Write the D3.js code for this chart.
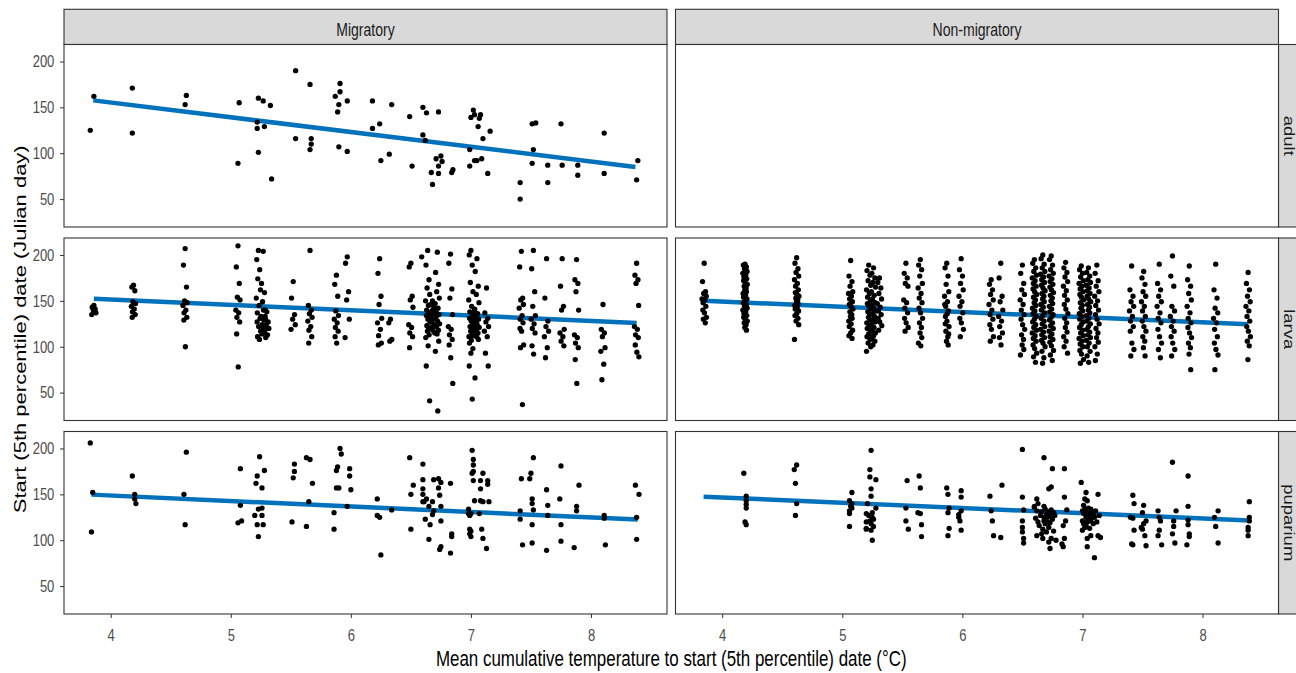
<!DOCTYPE html>
<html>
<head>
<meta charset="utf-8">
<script src="https://cdn.jsdelivr.net/npm/d3@7"></script>
<style>
  html, body { margin: 0; padding: 0; background: #fff; }
  svg { display: block; font-family: "Liberation Sans", Arial, sans-serif; }
</style>
</head>
<body>
<svg id="chart" width="1296" height="673"></svg>
<script>
// ---------------------------------------------------------------------------
// Facets, ticks and titles
// ---------------------------------------------------------------------------
const facetCols = ["Migratory", "Non-migratory"];
const facetRows = ["adult", "larva", "puparium"];
const xTicks = [4, 5, 6, 7, 8];
const yTicks = [50, 100, 150, 200];
const xTitle = "Mean cumulative temperature to start (5th percentile) date (\u00B0C)";
const yTitle = "Start (5th percentile) date (Julian day)";

// ---------------------------------------------------------------------------
// Observations: [mean cumulative temperature, start day]
// ---------------------------------------------------------------------------
const migAdult = [
  [3.83,125],[3.86,162],[4.18,171],[4.18,122],[4.63,163],[4.62,153],[5.06,89],[5.07,155],
  [5.23,160],[5.27,157],[5.33,152],[5.22,134],[5.22,127],[5.28,129],[5.23,101],[5.34,72],
  [5.54,190],[5.54,116],[5.66,175],[5.67,116],[5.67,110],[5.66,104],[5.87,162],[5.91,176],
  [5.91,167],[5.90,153],[5.89,145],[5.97,157],[5.90,107],[5.97,102],[6.18,157],[6.18,127],
  [6.24,132],[6.34,153],[6.25,92],[6.32,99],[6.49,140],[6.51,86],[6.60,150],[6.63,144],
  [6.60,120],[6.62,114],[6.73,145],[6.75,97],[6.71,94],[6.76,91],[6.73,86],[6.67,79],
  [6.73,78],[6.68,66],[6.84,79],[6.85,82],[7.02,147],[7.00,139],[7.03,142],[7.08,142],
  [7.07,138],[7.06,129],[7.16,124],[7.10,116],[6.99,104],[6.99,86],[7.03,92],[7.05,92],
  [7.09,94],[7.14,78],[7.51,132],[7.54,133],[7.52,104],[7.51,89],[7.41,68],[7.41,50],
  [7.64,87],[7.64,68],[7.75,132],[7.76,87],[7.89,87],[7.89,76],[8.11,122],[8.11,78],
  [8.39,92],[8.38,71]
];

const migPuparium = [
  [3.83,206],[3.85,152],[3.84,109],[4.18,170],[4.20,150],[4.20,145],[4.21,140],[4.63,196],
  [4.61,150],[4.62,117],[5.08,138],[5.08,178],[5.06,119],[5.09,121],[5.24,191],[5.22,170],
  [5.21,162],[5.28,176],[5.26,157],[5.23,134],[5.26,135],[5.20,127],[5.26,127],[5.22,117],
  [5.27,117],[5.23,104],[5.53,183],[5.53,175],[5.52,168],[5.51,120],[5.63,190],[5.66,188],
  [5.68,162],[5.65,142],[5.63,115],[5.91,200],[5.92,194],[5.89,180],[5.88,176],[5.88,157],
  [5.90,157],[5.86,130],[5.86,112],[5.97,137],[5.99,178],[5.99,170],[6.00,155],[6.22,145],
  [6.22,127],[6.24,125],[6.25,84],[6.34,133],[6.49,190],[6.52,160],[6.50,150],[6.50,112],
  [6.60,183],[6.60,166],[6.60,156],[6.60,150],[6.60,142],[6.61,142],[6.63,145],[6.62,123],
  [6.65,137],[6.69,166],[6.68,142],[6.69,132],[6.68,128],[6.66,117],[6.65,101],[6.73,167],
  [6.75,163],[6.73,157],[6.74,149],[6.75,137],[6.75,121],[6.75,93],[6.74,90],[6.83,162],
  [6.84,107],[6.84,104],[6.83,86],[7.01,198],[7.02,188],[7.02,182],[7.02,175],[7.01,173],
  [7.02,165],[7.08,165],[7.10,173],[7.08,156],[7.14,165],[7.14,161],[7.03,143],[7.08,143],
  [7.10,142],[7.15,142],[6.98,134],[6.98,129],[7.00,129],[6.99,127],[7.07,129],[6.99,112],
  [7.00,110],[6.99,107],[7.00,104],[7.09,112],[7.10,102],[7.13,91],[7.42,167],[7.49,167],
  [7.50,173],[7.52,190],[7.51,145],[7.51,140],[7.52,133],[7.41,132],[7.41,123],[7.51,117],
  [7.43,95],[7.51,97],[7.63,155],[7.64,138],[7.64,127],[7.63,89],[7.75,181],[7.74,145],
  [7.75,117],[7.75,99],[7.90,160],[7.88,137],[7.88,132],[7.86,92],[8.11,127],[8.11,124],
  [8.12,95],[8.37,160],[8.40,150],[8.38,125],[8.38,101]
];

const nonmigPuparium = [
  [4.18,173],[4.20,148],[4.20,143],[4.20,139],[4.20,135],[4.19,120],[4.20,117],
  [4.62,182],[4.60,177],[4.61,162],[4.62,140],[4.61,127],
  [5.08,152],[5.06,143],[5.07,137],[5.08,135],[5.06,132],[5.06,129],[5.08,140],[5.06,115],
  [5.24,198],[5.23,177],[5.23,169],[5.28,166],[5.24,156],[5.24,148],[5.21,140],[5.28,135],
  [5.20,129],[5.22,127],[5.25,125],[5.26,123],[5.23,121],[5.20,120],[5.24,118],[5.26,115],
  [5.20,112],[5.24,111],[5.25,100],[5.20,113],[5.25,130],
  [5.54,165],[5.53,135],[5.53,121],[5.55,112],
  [5.64,170],[5.65,157],[5.63,130],[5.65,129],[5.66,117],[5.66,104],
  [5.87,157],[5.88,150],[5.89,135],[5.88,130],[5.89,113],[5.88,105],
  [5.99,154],[5.99,147],[5.99,132],[5.97,128],[5.97,125],[5.98,121],[5.99,111],
  [6.23,148],[6.24,132],[6.25,121],[6.26,105],[6.33,160],[6.32,103],
  [6.50,199],[6.50,147],[6.51,133],[6.50,121],[6.50,114],[6.50,109],[6.51,102],[6.51,97],
  [6.68,190],[6.62,145],[6.60,137],[6.68,137],[6.75,178],[6.85,178],[6.72,156],[6.74,158],
  [6.62,132],[6.65,127],[6.61,124],[6.68,121],[6.71,125],[6.73,127],[6.75,123],[6.77,127],
  [6.71,129],[6.69,118],[6.64,116],[6.72,114],[6.66,107],[6.67,102],[6.70,109],[6.74,102],
  [6.72,98],[6.73,91],[6.78,100],[6.85,147],[6.87,133],[6.86,121],[6.84,116],[6.85,102],
  [6.84,93],[6.83,96],[6.60,136],[6.63,140],
  [6.66,131],[6.69,134],[6.70,128],[6.72,131],[6.74,133],[6.76,130],[6.68,125],[6.71,120],
  [6.63,120],[6.73,119],[6.67,112],[6.76,110],[6.62,105],
  [6.99,163],[7.03,152],[7.02,145],[7.04,143],[7.13,150],[7.00,132],[7.01,129],[7.03,125],
  [7.05,129],[7.07,127],[7.10,125],[7.14,127],[7.00,121],[7.04,120],[7.07,121],[7.02,114],
  [7.09,118],[7.00,111],[7.04,102],[7.07,105],[7.13,105],[7.15,103],[7.04,93],[7.10,81],
  [7.02,134],[7.07,134],
  [7.01,138],[7.03,131],[7.05,135],[7.06,123],[7.08,131],[7.01,118],[7.04,127],[7.09,128],
  [7.11,132],[7.03,116],[7.06,113],[7.12,120],
  [7.42,149],[7.43,140],[7.40,125],[7.42,124],[7.43,111],[7.41,96],[7.42,95],
  [7.51,138],[7.50,130],[7.49,114],[7.51,118],[7.53,121],[7.50,112],[7.52,105],[7.53,94],
  [7.63,132],[7.64,125],[7.65,121],[7.64,111],[7.63,105],[7.66,95],
  [7.75,185],[7.78,132],[7.76,121],[7.76,115],[7.77,97],[7.75,107],
  [7.88,170],[7.88,137],[7.88,122],[7.88,117],[7.89,107],[7.89,104],[7.87,95],
  [8.13,132],[8.10,125],[8.11,115],[8.13,97],
  [8.39,142],[8.39,125],[8.39,121],[8.38,114],[8.38,105],[8.38,111]
];

// Larva records grouped by site: [site mean temperature, [start days]]
const migLarva = [
  [3.86,[145,143,141,140,137,135]],
  [4.19,[167,165,161,149,147,144,141,138,135,132]],
  [4.62,[207,189,165,150,148,145,140,137,132,129,100]],
  [5.06,[210,187,169,154,151,140,137,132,127,114,78]],
  [5.23,[205,195,184,174,162,153,145,137,131,127,122,117,111,108]],
  [5.27,[204,169,159,149,140,133,129,124,119,114,140,130,122,115]],
  [5.30,[138,133,127,124,120,117,113,110]],
  [5.52,[171,153,135,130,124,119]],
  [5.66,[205,145,140,136,132,128,122,118,111,104]],
  [5.88,[178,168,155,139,134,130,126,121,117,111,104]],
  [5.97,[198,191,160,151,130,110]],
  [6.24,[196,180,155,146,131,126,119,112,104,102]],
  [6.33,[130,126,108,106]],
  [6.50,[191,187,155,151,143,124,121,115,111,99]],
  [6.59,[198]],
  [6.64,[205,189,173,164,157,150,145,140,137,134,130,127,123,120,117,113,110,101,79,41]],
  [6.68,[150,146,142,139,136,133,130,127,124,121,118,115]],
  [6.72,[203,181,168,160,153,147,142,138,135,132,128,125,122,118,114,106,95,30]],
  [6.83,[201,191,163,153,135,122,119,113,108,102,88,60]],
  [7.00,[205,200,189,170,160,151,144,138,134,131,128,125,122,120,117,114,111,107,104,98,93,79,43]],
  [7.03,[140,136,133,130,127,124,121,118,115,112]],
  [7.05,[196,182,166,157,148,141,136,133,130,127,124,121,118,115,111,108,66]],
  [7.13,[164,137,131,127,122,117,111,93,79]],
  [7.42,[204,187,153,151,146,142,134,130,126,120,117,102,99,37]],
  [7.52,[205,185,160,144,134,130,125,120,115,101,92]],
  [7.63,[196,153,128,122,117,111,99,88]],
  [7.76,[196,166,144,140,119,115,111,106,101]],
  [7.88,[195,173,169,160,140,113,110,104,99,86,60]],
  [8.10,[146,119,115,111,99,95,81,64]],
  [8.38,[191,178,173,169,145,122,119,113,110,102,94,89]]
];

const nonmigLarva = [
  [3.85,[191,171,160,158,155,152,151,148,144,140,137,132,130,126]],
  [4.19,[190,189,187,185,182,180,178,176,174,172,170,168,166,164,162,160,158,156,154,152,150,
         148,146,144,142,140,138,136,134,132,130,128,126,124,121,118]],
  [4.62,[197,191,185,181,177,173,169,166,162,159,157,155,153,151,149,147,145,143,141,139,136,
         134,131,128,124,108]],
  [5.07,[194,177,171,166,160,158,155,152,149,146,144,141,138,135,133,131,128,125,122,118,115,112,109]],
  [5.22,[189,183,178,172,167,162,158,154,150,147,144,141,138,135,132,129,126,123,120,117,114,
         111,108,104,100,95]],
  [5.26,[186,180,175,170,165,160,156,152,148,145,142,139,136,133,130,127,124,121,118,115,112,
         109,106,102]],
  [5.31,[175,170,164,158,152,147,143,139,135,131,127,123,118]],
  [5.53,[191,180,175,169,166,151,148,142,137,131,126,121,117]],
  [5.65,[195,189,184,177,169,164,158,153,148,142,137,131,126,121,115,110,104,101]],
  [5.87,[191,186,177,168,160,155,149,144,139,133,128,122,117,111,106,102,146,136,125,114]],
  [5.99,[196,184,177,169,162,155,149,144,137,131,126,119,111]],
  [6.24,[173,168,162,157,151,146,140,135,130,124,119,111,106]],
  [6.32,[191,175,155,149,140,133,128,122,115,110,102]],
  [6.50,[189,180,169,162,157,151,146,140,135,130,124,119,113,108,102,97,91]],
  [6.60,[195,191,186,182,178,175,172,169,166,163,160,157,154,151,148,145,142,139,136,133,130,
         127,124,121,118,115,112,109,106,102,98,93,89,83]],
  [6.67,[200,196,190,186,182,179,176,173,170,167,164,161,158,155,152,149,146,143,140,137,134,
         131,128,125,122,119,116,113,110,107,104,100,95,88,82]],
  [6.74,[199,195,189,184,180,177,174,171,168,165,162,159,156,153,150,147,144,141,138,135,132,
         129,126,123,120,117,114,111,108,105,101,96,91,85]],
  [6.86,[192,186,181,176,171,166,161,156,151,146,141,136,131,126,121,116,111,106,100,93]],
  [6.99,[188,184,180,176,172,169,166,163,160,157,154,151,148,145,142,139,136,133,130,127,124,
         121,118,115,112,109,106,103,100,96,92,86,82]],
  [7.05,[186,181,177,173,170,167,164,161,158,155,152,149,146,143,140,137,134,131,128,125,122,
         119,116,113,110,107,104,100,95,90,83]],
  [7.12,[189,180,172,166,160,155,150,145,140,135,130,125,120,115,110,105,100,92,85]],
  [7.41,[188,162,155,149,144,139,133,128,122,117,104,97,90]],
  [7.51,[182,175,168,160,155,149,144,139,133,128,122,117,111,106,99,90]],
  [7.64,[190,169,162,155,149,144,137,131,126,119,111,104,97,88]],
  [7.75,[199,177,166,144,139,133,128,122,117,111,104,97,90]],
  [7.89,[188,173,166,158,151,144,137,131,126,121,115,110,104,99,92,75]],
  [8.11,[190,162,153,142,137,131,126,119,111,104,97,91,75]],
  [8.38,[181,169,162,155,149,144,139,133,128,122,117,111,106,101,86]]
];

// Fitted linear trend per panel: [[temperature, day] at start, [temperature, day] at end]
const trendMigAdult      = [[3.855,157.6],[8.37,85.0]];
const trendMigLarva      = [[3.86,152.3],[8.38,125.9]];
const trendMigPuparium   = [[3.84,149.7],[8.39,122.5]];
const trendNonmigLarva   = [[3.85,150.0],[8.38,124.4]];
const trendNonmigPuparium= [[3.845,147.5],[8.39,121.4]];

// ---------------------------------------------------------------------------
// Layout
// ---------------------------------------------------------------------------
const colX = [64, 675.5];
const panelW = 603;
const rowY = [44.5, 238, 431.5];
const panelH = 182.5;
const stripTop = 9.3;
const rightStripX = 1278.5;
const xDomain = [3.611, 8.633];
const yDomain = [19.6, 218.5];
const lineColor = "#0072BC";
const frame = "#333333";
// horizontal squeeze applied to glyphs
const hx = 0.79;
// sideways spread of records within a site column (display only)
const jitterUnit = 0.02;
const jitterSteps = [0, -0.7, 0.55, -0.25, 0.85, -0.9, 0.3, -0.45, 0.7, -0.55, 0.1, 0.95,
                     -0.35, 0.45, -0.1, 0.6, -0.8, 0.2, -0.6, 0.8];

const svg = d3.select("#chart");
const xScales = colX.map(x0 => d3.scaleLinear().domain(xDomain).range([x0, x0 + panelW]));
const yScales = rowY.map(y0 => d3.scaleLinear().domain(yDomain).range([y0 + panelH, y0]));

function expand(clusters) {
  const out = [];
  clusters.forEach(([t, days]) => {
    days.forEach((d, i) => {
      out.push([t + jitterSteps[i % jitterSteps.length] * jitterUnit, d]);
    });
  });
  return out;
}

const panels = [
  { col: 0, row: 0, pts: migAdult, trend: trendMigAdult },
  { col: 1, row: 0, pts: [], trend: null },
  { col: 0, row: 1, pts: expand(migLarva), trend: trendMigLarva },
  { col: 1, row: 1, pts: expand(nonmigLarva), trend: trendNonmigLarva },
  { col: 0, row: 2, pts: migPuparium, trend: trendMigPuparium },
  { col: 1, row: 2, pts: nonmigPuparium, trend: trendNonmigPuparium }
];

// Top strips
facetCols.forEach((name, c) => {
  const g = svg.append("g");
  g.append("rect")
    .attr("x", colX[c]).attr("y", stripTop)
    .attr("width", panelW).attr("height", rowY[0] - stripTop)
    .attr("fill", "#D9D9D9").attr("stroke", frame).attr("stroke-width", 1.1);
  g.append("text")
    .attr("transform", `translate(${colX[c] + panelW / 2},36) scale(0.76,1)`)
    .attr("text-anchor", "middle")
    .attr("font-size", 18.5)
    .attr("fill", "#1A1A1A")
    .text(name);
});

// Right strips
facetRows.forEach((name, r) => {
  const g = svg.append("g");
  g.append("rect")
    .attr("x", rightStripX).attr("y", rowY[r])
    .attr("width", 40).attr("height", panelH)
    .attr("fill", "#D9D9D9").attr("stroke", frame).attr("stroke-width", 1.1);
  g.append("text")
    .attr("transform", `translate(1283.5,${rowY[r] + panelH / 2}) scale(0.8,1) rotate(90)`)
    .attr("text-anchor", "middle")
    .attr("font-size", 18.5)
    .attr("fill", "#1A1A1A")
    .text(name);
});

// Panels
panels.forEach(p => {
  const x = xScales[p.col], y = yScales[p.row];
  const g = svg.append("g");
  g.append("rect")
    .attr("x", colX[p.col]).attr("y", rowY[p.row])
    .attr("width", panelW).attr("height", panelH)
    .attr("fill", "#fff");
  if (p.trend) {
    g.append("path")
      .datum(p.trend)
      .attr("d", d3.line().x(d => x(d[0])).y(d => y(d[1])))
      .attr("stroke", lineColor).attr("stroke-width", 4.5)
      .attr("fill", "none");
  }
  g.selectAll("circle.obs")
    .data(p.pts)
    .join("circle")
    .attr("class", "obs")
    .attr("cx", d => x(d[0]))
    .attr("cy", d => y(d[1]))
    .attr("r", 2.65)
    .attr("fill", "#000");
  g.append("rect")
    .attr("x", colX[p.col]).attr("y", rowY[p.row])
    .attr("width", panelW).attr("height", panelH)
    .attr("fill", "none").attr("stroke", frame).attr("stroke-width", 1.1);
});

// Bottom axes
xScales.forEach(x => {
  const ax = svg.append("g")
    .attr("transform", `translate(0,${rowY[2] + panelH})`)
    .call(d3.axisBottom(x).tickValues(xTicks).tickSize(4).tickPadding(11).tickFormat(d3.format("d")));
  ax.select(".domain").remove();
  ax.selectAll(".tick line").attr("stroke", frame);
  ax.selectAll(".tick text")
    .attr("font-size", 16.5)
    .attr("font-family", "Liberation Sans, Arial, sans-serif")
    .attr("fill", "#4D4D4D")
    .attr("transform", `scale(${hx},1)`);
});

// Left axes
yScales.forEach(y => {
  const ax = svg.append("g")
    .attr("transform", `translate(${colX[0]},0)`)
    .call(d3.axisLeft(y).tickValues(yTicks).tickSize(4).tickPadding(8.2));
  ax.select(".domain").remove();
  ax.selectAll(".tick line").attr("stroke", frame);
  ax.selectAll(".tick text")
    .attr("font-size", 16.5)
    .attr("font-family", "Liberation Sans, Arial, sans-serif")
    .attr("fill", "#4D4D4D")
    .attr("transform", `scale(${hx},1)`);
});

// Axis titles
svg.append("text")
  .attr("transform", `translate(${(colX[0] + rightStripX) / 2},665.5) scale(0.77,1)`)
  .attr("text-anchor", "middle")
  .attr("font-size", 22)
  .attr("fill", "#000")
  .text(xTitle);

svg.append("text")
  .attr("transform", `translate(25.5,${(rowY[0] + rowY[2] + panelH) / 2}) scale(0.79,1) rotate(-90)`)
  .attr("text-anchor", "middle")
  .attr("font-size", 22)
  .attr("fill", "#000")
  .text(yTitle);
</script>
</body>
</html>
